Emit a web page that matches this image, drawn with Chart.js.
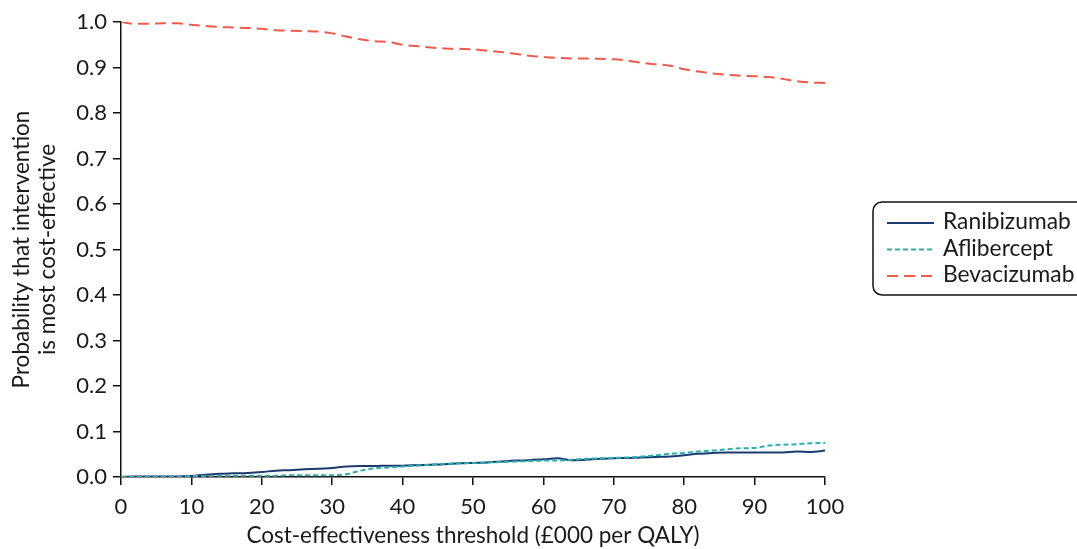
<!DOCTYPE html>
<html>
<head>
<meta charset="utf-8">
<script src="https://cdn.jsdelivr.net/npm/chart.js@4.4.1/dist/chart.umd.min.js"></script>
<style>
  html, body { margin: 0; padding: 0; background: #ffffff; }
  #wrap { width: 1077px; height: 549px; position: relative; }
</style>
</head>
<body>
<div id="wrap"><canvas id="c" width="1077" height="549"></canvas></div>
<script>
const thresholds = [0,2,4,6,8,10,12,14,16,18,20,22,24,26,28,30,32,34,36,38,40,42,44,46,48,50,52,54,56,58,60,62,64,66,68,70,72,74,76,78,80,82,84,86,88,90,92,94,96,98,100];

const ranibizumab = [0,0.001,0.001,0.001,0.001,0.002,0.005,0.007,0.008,0.009,0.011,0.014,0.015,0.017,0.018,0.020,0.023,0.024,0.024,0.025,0.025,0.026,0.027,0.028,0.030,0.031,0.032,0.034,0.036,0.037,0.039,0.041,0.037,0.038,0.040,0.041,0.042,0.043,0.044,0.045,0.048,0.051,0.053,0.054,0.054,0.054,0.054,0.054,0.056,0.055,0.058];

const aflibercept = [0,0.001,0.001,0.001,0.001,0.002,0.002,0.003,0.003,0.003,0.003,0.003,0.004,0.004,0.004,0.004,0.006,0.014,0.019,0.021,0.023,0.025,0.027,0.029,0.030,0.031,0.032,0.033,0.034,0.035,0.036,0.036,0.038,0.040,0.041,0.042,0.043,0.045,0.048,0.051,0.053,0.056,0.058,0.061,0.063,0.064,0.069,0.071,0.072,0.074,0.075];

const bevacizumab = [1.000,0.996,0.996,0.997,0.997,0.994,0.991,0.989,0.988,0.987,0.985,0.982,0.981,0.980,0.979,0.975,0.968,0.962,0.958,0.956,0.950,0.947,0.944,0.942,0.941,0.940,0.937,0.934,0.930,0.926,0.923,0.921,0.920,0.920,0.919,0.918,0.915,0.910,0.907,0.904,0.896,0.891,0.887,0.884,0.882,0.881,0.879,0.875,0.870,0.867,0.866];

const xTicks = [0,10,20,30,40,50,60,70,80,90,100];
const yTicks = [0,0.1,0.2,0.3,0.4,0.5,0.6,0.7,0.8,0.9,1.0];

const seriesNames = ['Ranibizumab','Aflibercept','Bevacizumab'];
const xTitle = 'Cost-effectiveness threshold (£000 per QALY)';
const yTitle = ['Probability that intervention','is most cost-effective'];

const FONT = 'Lato, "Open Sans", sans-serif';
const colors = ['#1d3a6e', '#2bb0b0', '#ef5a4c'];
const dashes = [[], [5, 3], [11, 6]];

function pts(ys) { return thresholds.map((x, i) => ({x: x, y: ys[i]})); }

const legendPlugin = {
  id: 'customLegend',
  afterDraw(chart) {
    const ctx = chart.ctx;
    ctx.save();
    const bx = 873, by = 202, bw = 220, bh = 93, r = 9;
    ctx.beginPath();
    ctx.moveTo(bx + r, by);
    ctx.lineTo(bx + bw - r, by);
    ctx.arcTo(bx + bw, by, bx + bw, by + r, r);
    ctx.lineTo(bx + bw, by + bh - r);
    ctx.arcTo(bx + bw, by + bh, bx + bw - r, by + bh, r);
    ctx.lineTo(bx + r, by + bh);
    ctx.arcTo(bx, by + bh, bx, by + bh - r, r);
    ctx.lineTo(bx, by + r);
    ctx.arcTo(bx, by, bx + r, by, r);
    ctx.closePath();
    ctx.fillStyle = '#ffffff';
    ctx.fill();
    ctx.lineWidth = 1.5;
    ctx.strokeStyle = '#111111';
    ctx.stroke();
    const rows = [222, 248.5, 275];
    seriesNames.forEach((name, i) => {
      ctx.beginPath();
      ctx.setLineDash(dashes[i]);
      ctx.lineWidth = 2;
      ctx.strokeStyle = colors[i];
      ctx.moveTo(887, rows[i] + 1);
      ctx.lineTo(934, rows[i] + 1);
      ctx.stroke();
      ctx.setLineDash([]);
      ctx.fillStyle = '#1a1a1a';
      ctx.font = '22.8px ' + FONT;
      ctx.textBaseline = 'middle';
      ctx.textAlign = 'left';
      ctx.fillText(name, 943, rows[i]);
    });
    ctx.restore();
  }
};

const data = {
  datasets: [
    { label: seriesNames[0], data: pts(ranibizumab), borderColor: colors[0], borderWidth: 2, borderDash: dashes[0], order: 1 },
    { label: seriesNames[1], data: pts(aflibercept), borderColor: colors[1], borderWidth: 2, borderDash: dashes[1], order: 0 },
    { label: seriesNames[2], data: pts(bevacizumab), borderColor: colors[2], borderWidth: 2, borderDash: dashes[2], order: 2 }
  ]
};

new Chart(document.getElementById('c'), {
  type: 'line',
  data: data,
  options: {
    responsive: false,
    animation: false,
    devicePixelRatio: 1,
    layout: { padding: { left: 0, top: 22, right: 252, bottom: 0 } },
    elements: {
      point: { radius: 0 },
      line: { cubicInterpolationMode: 'monotone', fill: false, borderCapStyle: 'butt' }
    },
    plugins: { legend: { display: false }, tooltip: { enabled: false } },
    scales: {
      x: {
        type: 'linear',
        min: 0, max: 100,
        afterBuildTicks(scale) { scale.ticks = xTicks.map(v => ({value: v})); },
        afterFit(scale) { scale.height = 72; },
        grid: { display: true, drawOnChartArea: false, drawTicks: true, tickLength: 8, color: '#111111', lineWidth: 1.5 },
        border: { display: true, color: '#111111', width: 1.5 },
        ticks: { color: '#1a1a1a', font: { family: FONT, size: 22 }, padding: 9, maxRotation: 0, callback: v => String(v) },
        title: { display: true, text: xTitle, color: '#1a1a1a', font: { family: FONT, size: 22.5 }, padding: { top: 0, bottom: 0 } }
      },
      y: {
        type: 'linear',
        min: 0, max: 1,
        afterBuildTicks(scale) { scale.ticks = yTicks.map(v => ({value: v})); },
        afterFit(scale) { scale.width = 121; },
        grid: { display: true, drawOnChartArea: false, drawTicks: true, tickLength: 8, color: '#111111', lineWidth: 1.5 },
        border: { display: true, color: '#111111', width: 1.5 },
        ticks: { color: '#1a1a1a', font: { family: FONT, size: 22 }, padding: 6, callback: v => v.toFixed(1) },
        title: { display: true, text: yTitle, color: '#1a1a1a', font: { family: FONT, size: 22.5, lineHeight: 1.15 }, padding: { top: 9, bottom: 0 } }
      }
    }
  },
  plugins: [legendPlugin]
});
</script>
</body>
</html>
